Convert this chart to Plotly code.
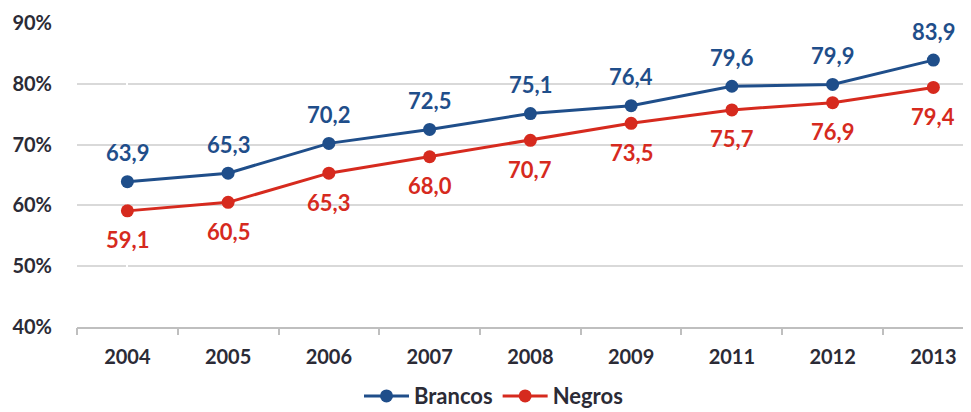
import plotly.graph_objects as go

years = ["2004", "2005", "2006", "2007", "2008", "2009", "2011", "2012", "2013"]
brancos = [63.9, 65.3, 70.2, 72.5, 75.1, 76.4, 79.6, 79.9, 83.9]
negros = [59.1, 60.5, 65.3, 68.0, 70.7, 73.5, 75.7, 76.9, 79.4]
y_ticks = [40, 50, 60, 70, 80, 90]
y_tick_labels = ["40%", "50%", "60%", "70%", "80%", "90%"]

BLUE = "#1F4E8A"
RED = "#D62A1E"
TXT = "#2B2B36"
FONT = "Lato, Open Sans, sans-serif"

xi = list(range(len(years)))
x_range = [-0.5, len(years) - 0.547]

fig = go.Figure()
fig.add_trace(go.Scatter(x=xi, y=brancos, name="Brancos", mode="lines+markers",
                         line=dict(color=BLUE, width=3), marker=dict(size=13, color=BLUE)))
fig.add_trace(go.Scatter(x=xi, y=negros, name="Negros", mode="lines+markers",
                         line=dict(color=RED, width=3), marker=dict(size=13, color=RED)))

def fmt(v):
    return f"{v:.1f}".replace(".", ",")

for x, v in zip(xi, brancos):
    fig.add_annotation(x=x, y=v, text=fmt(v), showarrow=False, yshift=29,
                       font=dict(family=FONT, size=22, color=BLUE, weight="bold"))
for x, v in zip(xi, negros):
    fig.add_annotation(x=x, y=v, text=fmt(v), showarrow=False, yshift=-29,
                       font=dict(family=FONT, size=22, color=RED, weight="bold"))

bounds = [i - 0.5 for i in range(len(years) + 1)]

fig.update_layout(
    width=971, height=412,
    margin=dict(l=69, r=0, t=15, b=93, autoexpand=False),
    paper_bgcolor="white", plot_bgcolor="white",
    font=dict(family=FONT, color=TXT),
    showlegend=True,
    legend=dict(orientation="h", x=0.5, xanchor="center", xref="container",
                y=0.058, yanchor="middle", yref="container",
                font=dict(family=FONT, size=22, color=TXT, weight="bold"),
                itemwidth=45, tracegroupgap=0),
    xaxis=dict(range=x_range, tickvals=xi, ticktext=years, tickangle=0,
               showgrid=False, showline=True, linecolor="#BFBFBF", linewidth=1.5,
               ticks="", zeroline=False, automargin=False, ticklabelstandoff=11,
               tickfont=dict(family=FONT, size=20, color=TXT, weight="bold"),
               fixedrange=True),
    xaxis2=dict(overlaying="x", range=x_range, tickvals=bounds,
                showticklabels=False, ticks="outside", ticklen=7, tickcolor="#BFBFBF",
                tickwidth=1.5, showgrid=False, side="bottom", anchor="y", matches="x",
                automargin=False),
    yaxis=dict(range=[40, 90], tickvals=y_ticks, ticktext=y_tick_labels,
               showgrid=True, gridcolor="#D9D9D9", gridwidth=1.5, zeroline=False,
               showline=False, ticklabelstandoff=24, automargin=False,
               tickfont=dict(family=FONT, size=20, color=TXT, weight="bold")),
)
fig.add_trace(go.Scatter(x=[0], y=[None], xaxis="x2", showlegend=False, hoverinfo="skip"))

fig.write_html("out.html")
